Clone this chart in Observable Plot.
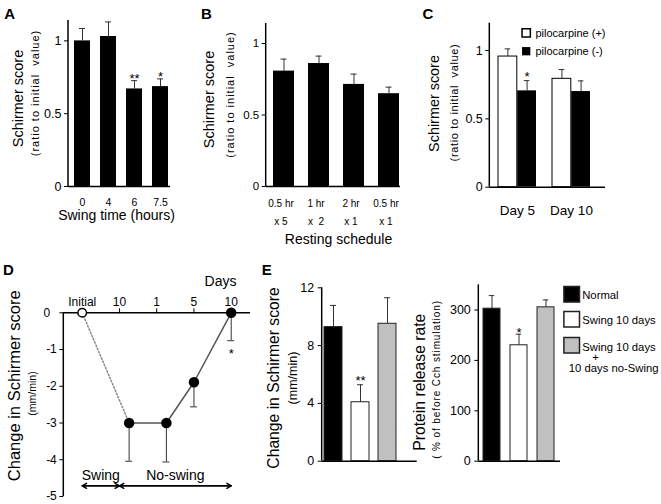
<!DOCTYPE html>
<html><head><meta charset="utf-8">
<script src="https://cdn.jsdelivr.net/npm/d3@7"></script>
<script src="https://cdn.jsdelivr.net/npm/@observablehq/plot@0.6"></script>
<style>
body{margin:0;background:#fff;}
#fig{position:relative;width:661px;height:504px;overflow:hidden;background:#fff;}
#fig svg{background:transparent !important;overflow:visible !important;}
</style></head><body><div id="fig"></div>
<script>
// ---------- data ----------
const aTimes = ["0", "4", "6", "7.5"];
const aMeans = [1.00, 1.03, 0.67, 0.686];
const aErrs = [0.085, 0.10, 0.057, 0.053];
const aSig = ["", "", "**", "*"];

const bSchedules = ["0.5 hr\nx 5", "1 hr\nx\u00a0\u00a02", "2 hr\nx 1", "0.5 hr\nx 1"];
const bMeans = [0.807, 0.860, 0.714, 0.649];
const bErrs = [0.084, 0.052, 0.072, 0.046];

const cDays = ["Day 5", "Day 10"];
const cPiloPlus = [0.956, 0.793];
const cPiloPlusErr = [0.056, 0.068];
const cPiloMinus = [0.705, 0.700];
const cPiloMinusErr = [0.075, 0.078];
const cSig = ["*", ""];
const cSeries = ["pilocarpine (+)", "pilocarpine (-)"];

const dLabels = ["Initial", "10", "1", "5", "10"];
const dStage = [0, 1.26, 2.26, 3, 4];
const dMeans = [0, -3, -3, -1.89, 0];
const dErrs = [0, 1.04, 1.06, 0.67, 0.76];
const dSig = ["", "", "", "", "*"];
const dPhases = ["Swing", "No-swing"];
const dPhaseStart = [0, 1];
const dPhaseEnd = [1, 4];

const eGroups = ["Normal", "Swing 10 days", "Swing 10 days + 10 days no-Swing"];
const eSchirmer = [9.28, 4.08, 9.51];
const eSchirmerErr = [1.5, 1.21, 1.8];
const eSchirmerSig = ["", "**", ""];
const eProtein = [302.6, 230, 305.3];
const eProteinErr = [26, 22, 14.7];
const eProteinSig = ["", "*", ""];

// ---------- helpers ----------
const FONT = '"Liberation Sans", Arial, Helvetica, sans-serif';
const fig = document.getElementById("fig");
const eColors = ["#000000", "#ffffff", "#c0c0c0"];

function panel(P, marks, scales) {
  const svg = Plot.plot({
    width: P.w, height: P.h,
    marginLeft: P.ml, marginRight: P.mr, marginTop: P.mt, marginBottom: P.mb,
    style: {fontFamily: FONT, fontSize: "12px", background: "transparent", overflow: "visible", color: "#000"},
    ...scales,
    marks
  });
  svg.querySelectorAll("text").forEach(t => {
    const s = t.textContent;
    if (s.startsWith("(ratio")) t.style.letterSpacing = P.ls + "px";
    if (s.startsWith("( %")) t.style.letterSpacing = "0.9px";
  });
  const d = document.createElement("div");
  d.style.cssText = `position:absolute;left:${P.left}px;top:${P.top}px;width:${P.w}px;height:${P.h}px;`;
  d.appendChild(svg);
  fig.appendChild(d);
}
function labeler(P) {
  return (str, X, Y, o = {}) => Plot.text([str], {text: d => d, frameAnchor: "top-left",
    textAnchor: "middle", lineAnchor: "middle",
    dx: X - (P.left + P.ml), dy: Y - (P.top + P.mt), fill: "#000", ...o});
}
function boxer(P) {
  return (key, X, Y, o = {}) => Plot.dot([key], {frameAnchor: "top-left",
    dx: X - (P.left + P.ml), dy: Y - (P.top + P.mt), symbol: "square", ...o});
}
const leftLine = (index, scales, values, dims) => {
  const l = document.createElementNS("http://www.w3.org/2000/svg", "line");
  const x = dims.marginLeft;
  l.setAttribute("x1", x); l.setAttribute("x2", x);
  l.setAttribute("y1", dims.marginTop); l.setAttribute("y2", dims.height - dims.marginBottom);
  l.setAttribute("stroke", "#000"); l.setAttribute("stroke-width", 1.5);
  return l;
};
const ERR = "#333";

// ---------- Panel A ----------
const A = {left: 0, top: 0, w: 200, h: 250, ml: 68, mr: 30, mt: 20, mb: 64, ls: 1};
const aData = aTimes.map((t, i) => ({t, m: aMeans[i], e: aErrs[i], s: aSig[i]}));
const LA = labeler(A);
panel(A, [
  Plot.ruleX(aData, {x: "t", y1: "m", y2: d => d.m + d.e, stroke: ERR}),
  Plot.tickY(aData, {x: "t", y: d => d.m + d.e, stroke: ERR, insetLeft: 5, insetRight: 5}),
  Plot.barY(aData, {x: "t", y: "m", fill: "#000"}),
  Plot.text(aData, {x: "t", y: d => d.m + d.e, text: "s", fontSize: 13, dy: -1.6}),
  Plot.axisY({ticks: [0, 0.5, 1], tickSize: 4, tickPadding: 3, fontSize: 12.5, tickFormat: d => String(d), label: null}),
  Plot.axisX({tickSize: 0, tickPadding: 12, fontSize: 10.5, label: null}),
  Plot.ruleY([0], {strokeWidth: 1.5}),
  leftLine,
  LA("A", 9.2, 13.3, {fontSize: 15, fontWeight: "bold"}),
  LA("Schirmer score", 18, 98, {rotate: -90, fontSize: 14.5}),
  LA("(ratio to initial\u00a0 value)", 35, 92.5, {rotate: -90, fontSize: 11}),
  LA("Swing time (hours)", 116, 215, {fontSize: 14})
], {x: {domain: aTimes, paddingInner: 0.389, paddingOuter: 0.141, align: 0.72}, y: {domain: [0, 1.14]}});

// ---------- Panel B ----------
const B = {left: 200, top: 0, w: 220, h: 250, ml: 65.7, mr: 20, mt: 23, mb: 64, ls: 1};
const bData = bSchedules.map((k, i) => ({k, m: bMeans[i], e: bErrs[i]}));
const LB = labeler(B);
panel(B, [
  Plot.ruleX(bData, {x: "k", y1: "m", y2: d => d.m + d.e, stroke: ERR}),
  Plot.tickY(bData, {x: "k", y: d => d.m + d.e, stroke: ERR, insetLeft: 7.5, insetRight: 7.5}),
  Plot.barY(bData, {x: "k", y: "m", fill: "#000"}),
  Plot.text(bData, {x: "k", text: "k", frameAnchor: "bottom", textAnchor: "middle", lineAnchor: "top", lineHeight: 1.72, dy: 8.7, dx: -3, fontSize: 10}),
  Plot.axisY({ticks: [0, 0.5, 1], tickSize: 4, tickPadding: 3, fontSize: 11.5, tickFormat: d => String(d), label: null}),
  Plot.ruleY([0], {strokeWidth: 1.5}),
  leftLine,
  LB("B", 206, 13.3, {fontSize: 15, fontWeight: "bold"}),
  LB("Schirmer score", 209, 99, {rotate: -90, fontSize: 14.5}),
  LB("(ratio to initial\u00a0 value)", 230, 94, {rotate: -90, fontSize: 11}),
  LB("Resting schedule", 338, 239.5, {fontSize: 14})
], {x: {domain: bSchedules, paddingInner: 0.402, paddingOuter: 0.114, align: 0.83, axis: null}, y: {domain: [0, 1.14]}});

// ---------- Panel C ----------
const C = {left: 420, top: 0, w: 241, h: 250, ml: 69.3, mr: 56, mt: 22.7, mb: 63.3, ls: 0.65};
const cData = cDays.map((d, i) => ({d, p: cPiloPlus[i], pe: cPiloPlusErr[i], n: cPiloMinus[i], ne: cPiloMinusErr[i], s: cSig[i]}));
const LC = labeler(C), BC = boxer(C);
panel(C, [
  Plot.ruleX(cData, {x: "d", y1: "p", y2: d => d.p + d.pe, dx: -9.6, stroke: ERR}),
  Plot.tickY(cData, {x: "d", y: d => d.p + d.pe, stroke: ERR, insetLeft: 6.6, insetRight: 25.8}),
  Plot.ruleX(cData, {x: "d", y1: "n", y2: d => d.n + d.ne, dx: 9.6, stroke: ERR}),
  Plot.tickY(cData, {x: "d", y: d => d.n + d.ne, stroke: ERR, insetLeft: 25.8, insetRight: 6.6}),
  Plot.barY(cData, {x: "d", y: "p", fill: "#fff", stroke: "#000", insetRight: 19.2}),
  Plot.barY(cData, {x: "d", y: "n", fill: "#000", insetLeft: 19.2}),
  Plot.text(cData, {x: "d", y: d => d.n + d.ne, text: "s", dx: 9.6, dy: -3.9, fontSize: 13}),
  Plot.axisY({ticks: [0, 0.5, 1], tickSize: 4, tickPadding: 3, fontSize: 12.5, tickFormat: d => String(d), label: null}),
  Plot.axisX({tickSize: 0, tickPadding: 17.9, fontSize: 13.5, label: null}),
  Plot.ruleY([0], {strokeWidth: 1.5}),
  leftLine,
  LC("C", 427.5, 13.3, {fontSize: 15, fontWeight: "bold"}),
  LC("Schirmer score", 434, 103, {rotate: -90, fontSize: 14.4}),
  LC("(ratio to initial\u00a0 value)", 454, 102, {rotate: -90, fontSize: 11}),
  BC(cSeries[0], 525.7, 32.3, {r: 4.68, fill: "#fff", stroke: "#000"}),
  BC(cSeries[1], 525.7, 50.7, {r: 4.68, fill: "#000"}),
  LC(cSeries[0], 535, 32.5, {textAnchor: "start", fontSize: 11}),
  LC(cSeries[1], 535, 50.9, {textAnchor: "start", fontSize: 11})
], {x: {domain: cDays, paddingInner: 0.302, paddingOuter: 0.203, align: 0.36}, y: {domain: [0, 1.2]}});

// ---------- Panel D ----------
const D = {left: 0, top: 250, w: 260, h: 254, ml: 63.3, mr: 10, mt: 62.3, mb: 8};
const dData = dLabels.map((l, i) => ({l, x: dStage[i], m: dMeans[i], e: dErrs[i], s: dSig[i]}));
const dErrData = dData.filter(d => d.e > 0);
const dPhaseData = dPhases.map((name, i) => ({name, a: dPhaseStart[i], b: dPhaseEnd[i]}));
const LD = labeler(D);
panel(D, [
  Plot.ruleY([0], {strokeWidth: 1.5}),
  leftLine,
  Plot.axisX({anchor: "top", ticks: [0, 1, 2, 3, 4], tickFormat: i => dLabels[i], tickSize: 5, tickPadding: 2, fontSize: 12, label: null}),
  Plot.axisY({ticks: [0, -1, -2, -3, -4, -5], tickSize: 4, tickPadding: 3, fontSize: 12,
    tickFormat: d => d === 0 ? "0\u2007" : String(d), label: null}),
  Plot.line(dData.slice(0, 2), {x: "x", y: "m", stroke: "#888", strokeDasharray: "1.5,2"}),
  Plot.line(dData.slice(1), {x: "x", y: "m", stroke: "#555"}),
  Plot.ruleX(dErrData, {x: "x", y1: "m", y2: d => d.m - d.e, stroke: ERR}),
  Plot.ruleY(dErrData, {y: d => d.m - d.e, x1: "x", x2: "x", insetLeft: -3.5, insetRight: -3.5, stroke: ERR}),
  Plot.dot(dData.slice(0, 1), {x: "x", y: "m", r: 4.3, fill: "#fff", stroke: "#000"}),
  Plot.dot(dData.slice(1), {x: "x", y: "m", r: 4.5, fill: "#000", stroke: "#000"}),
  Plot.text(dData, {x: "x", y: d => d.m - d.e, text: "s", dy: 13.4, fontSize: 13}),
  Plot.arrow(dPhaseData, {x1: "a", x2: "b", y1: () => -5, y2: () => -5, dy: -10.7, headLength: 5, stroke: "#000"}),
  Plot.arrow(dPhaseData, {x1: "b", x2: "a", y1: () => -5, y2: () => -5, dy: -10.7, headLength: 5, stroke: "#000"}),
  Plot.text(dPhaseData, {x: d => (d.a + d.b) / 2, y: () => -5, dy: -21, text: "name", fontSize: 14}),
  LD("D", 8, 270, {fontSize: 15, fontWeight: "bold"}),
  LD("Days", 220, 280.7, {fontSize: 14}),
  LD("Change in Schirmer score", 13.8, 385.3, {rotate: -90, fontSize: 16.5}),
  LD("(mm/min)", 32, 393, {rotate: -90, fontSize: 10.5})
], {x: {domain: [-0.494, 4.518]}, y: {domain: [-5, 0]}});

// ---------- Panel E (left) ----------
const EL = {left: 260, top: 250, w: 160, h: 254, ml: 61.7, mr: 3.3, mt: 37.3, mb: 43.3};
const elData = eGroups.map((g, i) => ({g, m: eSchirmer[i], e: eSchirmerErr[i], s: eSchirmerSig[i]}));
const LEL = labeler(EL);
panel(EL, [
  Plot.ruleX(elData, {x: "g", y1: "m", y2: d => d.m + d.e, stroke: ERR}),
  Plot.tickY(elData, {x: "g", y: d => d.m + d.e, stroke: ERR, insetLeft: 6, insetRight: 6}),
  Plot.barY(elData, {x: "g", y: "m", fill: "g", stroke: "#222"}),
  Plot.text(elData, {x: "g", y: d => d.m + d.e, text: "s", dy: -3.6, fontSize: 13}),
  Plot.axisY({ticks: [0, 4, 8, 12], tickSize: 4, tickPadding: 4, fontSize: 12.5, label: null}),
  Plot.ruleY([0], {strokeWidth: 1.5}),
  leftLine,
  LEL("E", 266.3, 270, {fontSize: 15, fontWeight: "bold"}),
  LEL("Change in Schirmer score", 273.5, 377.5, {rotate: -90, fontSize: 15.7}),
  LEL("(mm/min)", 292, 377.5, {rotate: -90, fontSize: 12.5})
], {x: {domain: eGroups, paddingInner: 0.336, paddingOuter: 0.42, align: 0.114, axis: null},
    y: {domain: [0, 12]}, color: {domain: eGroups, range: eColors}});

// ---------- Panel E (right) ----------
const ER = {left: 405, top: 250, w: 256, h: 254, ml: 73.3, mr: 101, mt: 34.3, mb: 43.3};
const erData = eGroups.map((g, i) => ({g, m: eProtein[i], e: eProteinErr[i], s: eProteinSig[i]}));
const LER = labeler(ER), BER = boxer(ER);
panel(ER, [
  Plot.ruleX(erData, {x: "g", y1: "m", y2: d => d.m + d.e, stroke: ERR}),
  Plot.tickY(erData, {x: "g", y: d => d.m + d.e, stroke: ERR, insetLeft: 5.75, insetRight: 5.75}),
  Plot.barY(erData, {x: "g", y: "m", fill: "g", stroke: "#222"}),
  Plot.text(erData, {x: "g", y: d => d.m + d.e, text: "s", dy: -1.3, fontSize: 13}),
  Plot.axisY({ticks: [0, 100, 200, 300], tickSize: 4, tickPadding: 4, fontSize: 12.5, label: null}),
  Plot.ruleY([0], {strokeWidth: 1.5}),
  leftLine,
  LER("Protein release rate", 419, 381.7, {rotate: -90, fontSize: 15.7}),
  LER("( % of before Cch stimulation)", 436, 379, {rotate: -90, fontSize: 10}),
  BER(eGroups[0], 571.2, 293.8, {r: 8.8, fill: d => d, stroke: "#222"}),
  BER(eGroups[1], 571.2, 318.8, {r: 8.8, fill: d => d, stroke: "#222"}),
  BER(eGroups[2], 571.2, 344.8, {r: 8.8, fill: d => d, stroke: "#222"}),
  LER("Normal", 581.7, 295, {textAnchor: "start", fontSize: 11.3}),
  LER("Swing 10 days", 581.7, 319.5, {textAnchor: "start", fontSize: 11.3}),
  LER("Swing 10 days", 581.7, 346.7, {textAnchor: "start", fontSize: 11.3}),
  LER("+", 595, 357.3, {fontSize: 11.3}),
  LER("10 days no-Swing", 568.3, 368.3, {textAnchor: "start", fontSize: 11.3})
], {x: {domain: eGroups, paddingInner: 0.359, paddingOuter: 0.176, align: 0.42, axis: null},
    y: {domain: [0, 350]}, color: {domain: eGroups, range: eColors}});
</script></body></html>
